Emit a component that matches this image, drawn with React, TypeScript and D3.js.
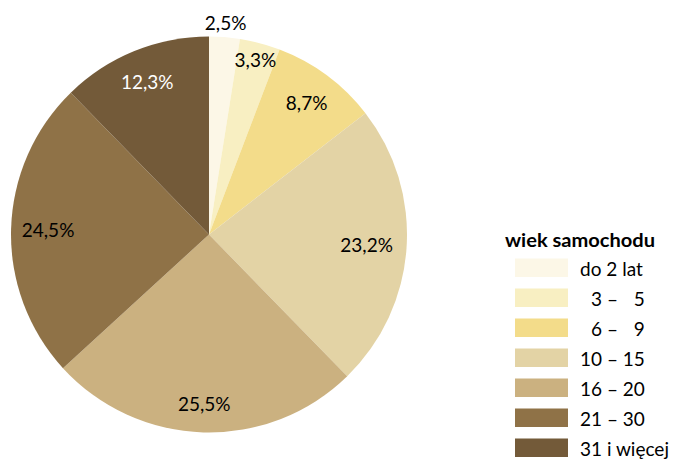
import React from "react";
import * as d3 from "d3";

const categories = ["do 2 lat", "\u20073 – \u20075", "\u20076 – \u20079", "10 – 15", "16 – 20", "21 – 30", "31 i więcej"];
const values = [2.5, 3.3, 8.7, 23.2, 25.5, 24.5, 12.3];
const valueLabels = ["2,5%", "3,3%", "8,7%", "23,2%", "25,5%", "24,5%", "12,3%"];
const colors = ["#FCF7E7", "#F8EFC2", "#F3DC8A", "#E3D3A5", "#CBB180", "#8F7247", "#735A39"];
const labelColors = ["#000", "#000", "#000", "#000", "#000", "#000", "#fff"];
const labelRadii = [212, 180, 164, 158, 170, 161, 164];
const legendTitle = "wiek samochodu";

const W = 674;
const H = 460;
const cx = 209;
const cy = 234.5;
const R = 198;
const FONT = "Lato, Carlito, Calibri, 'Open Sans', sans-serif";

export default function App() {
  const pie = d3.pie<number>().sort(null).value((d) => d)(values);
  const arc = d3.arc<d3.PieArcDatum<number>>().innerRadius(0).outerRadius(R);
  const legendY = d3.scaleLinear().domain([0, 1]).range([258.5, 288.5]);

  return (
    <svg
      width={W}
      height={H}
      style={{ position: "absolute", left: 0, top: 0, background: "#fff" }}
      fontFamily={FONT}
    >
      <g transform={`translate(${cx},${cy})`}>
        {pie.map((p, i) => (
          <path key={i} d={arc(p) || ""} fill={colors[i]} />
        ))}
        {pie.map((p, i) => {
          const a = (p.startAngle + p.endAngle) / 2;
          const r = labelRadii[i];
          return (
            <text
              key={"l" + i}
              x={Math.sin(a) * r}
              y={-Math.cos(a) * r}
              dy="0.36em"
              textAnchor="middle"
              fontSize={19}
              fill={labelColors[i]}
            >
              {valueLabels[i]}
            </text>
          );
        })}
      </g>
      <text x={505} y={247} fontSize={18.5} fontWeight="bold" fill="#000" textLength={150} lengthAdjust="spacingAndGlyphs">
        {legendTitle}
      </text>
      {categories.map((c, i) => (
        <g key={"lg" + i}>
          <rect x={515} y={legendY(i)} width={53} height={18.5} fill={colors[i]} />
          <text x={580} y={legendY(i) + 17} fontSize={19} fill="#000" style={{ whiteSpace: "pre" }}>
            {c}
          </text>
        </g>
      ))}
    </svg>
  );
}
